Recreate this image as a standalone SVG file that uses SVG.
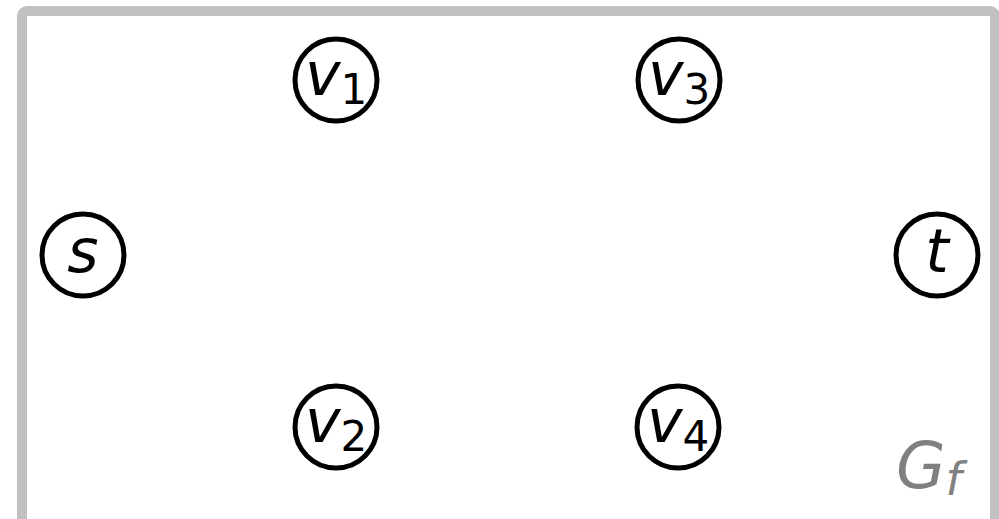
<svg xmlns="http://www.w3.org/2000/svg" width="999" height="519" viewBox="0 0 999 519">
<style>
.frame{fill:none;stroke:#c0c0c0;stroke-width:10}
.node circle{fill:#fff;stroke:#000;stroke-width:5}
.lbl{font-family:"DejaVu Sans",sans-serif;font-style:italic;font-size:60px;fill:#000;text-anchor:middle}
.sub{font-style:normal;font-size:42px}
.gf{font-family:"DejaVu Sans",sans-serif;font-style:italic;font-size:64px;fill:#808080}
</style>
<rect class="frame" x="22" y="11" width="973" height="600" rx="5"/>
<g id="connectors"></g>
<g id="s" class="node"><circle cx="83" cy="255" r="41"/><text class="lbl" x="83" y="272">s</text></g>
<g id="v1" class="node"><circle cx="336" cy="80" r="41"/><text class="lbl" x="336" y="95">v<tspan class="sub" dy="9">1</tspan></text></g>
<g id="v3" class="node"><circle cx="679" cy="80" r="41"/><text class="lbl" x="679" y="95">v<tspan class="sub" dy="9">3</tspan></text></g>
<g id="v2" class="node"><circle cx="336" cy="427" r="41"/><text class="lbl" x="336" y="442">v<tspan class="sub" dy="9">2</tspan></text></g>
<g id="v4" class="node"><circle cx="678" cy="427" r="41"/><text class="lbl" x="678" y="442">v<tspan class="sub" dy="9">4</tspan></text></g>
<g id="t" class="node"><circle cx="937" cy="255" r="41"/><text class="lbl" x="937" y="272">t</text></g>
<text class="gf" x="896" y="488">G<tspan font-size="46" dy="7">f</tspan></text>
</svg>
